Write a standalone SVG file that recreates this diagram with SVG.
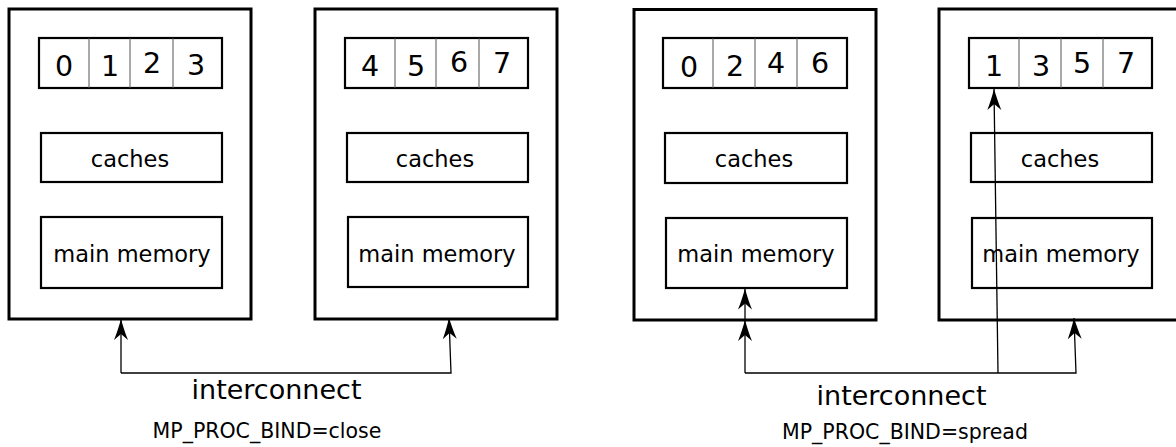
<svg xmlns="http://www.w3.org/2000/svg" width="1176" height="447" viewBox="0 0 1176 447">
<style>
.outer{fill:#fff;stroke:#000;stroke-width:3}
.inner{fill:#fff;stroke:#000;stroke-width:2.2}
.div{stroke:#555;stroke-width:1}
.t{font-family:"DejaVu Sans",sans-serif;fill:#000;text-anchor:middle}
.d{font-size:28.5px}
.l{font-size:22.5px}
.ic{font-size:27px}
.mp{font-size:20.5px}
.c{fill:none;stroke:#000;stroke-width:1.3}
</style>
<defs>
<marker id="ah" markerUnits="userSpaceOnUse" orient="auto" markerWidth="24" markerHeight="16" viewBox="-22 -8 23 16" refX="0" refY="0" overflow="visible">
<path d="M0,0 C-7,2 -15,4.5 -21,7 L-15,0 L-21,-7 C-15,-4.5 -7,-2 0,0 Z" fill="#000"/>
</marker>
</defs>
<rect width="1176" height="447" fill="#fff"/>

<g id="node1">
<rect class="outer" x="9" y="9" width="242" height="310"/>
<rect class="inner" x="39" y="38" width="183" height="50"/>
<line class="div" x1="89" y1="38" x2="89" y2="88"/><line class="div" x1="130" y1="38" x2="130" y2="88"/><line class="div" x1="173" y1="38" x2="173" y2="88"/>
<text class="t d" x="64" y="76">0</text><text class="t d" x="110" y="76">1</text><text class="t d" x="152" y="73">2</text><text class="t d" x="196" y="75">3</text>
<rect class="inner" x="41" y="133" width="181" height="49"/>
<text class="t l" x="130" y="167">caches</text>
<rect class="inner" x="41" y="217" width="181" height="71"/>
<text class="t l" x="132" y="262">main memory</text>
</g>

<g id="node2">
<rect class="outer" x="315" y="9" width="242" height="310"/>
<rect class="inner" x="345" y="38" width="183" height="50"/>
<line class="div" x1="395" y1="38" x2="395" y2="88"/><line class="div" x1="436" y1="38" x2="436" y2="88"/><line class="div" x1="479" y1="38" x2="479" y2="88"/>
<text class="t d" x="370" y="76">4</text><text class="t d" x="416" y="76">5</text><text class="t d" x="459" y="72">6</text><text class="t d" x="502" y="73">7</text>
<rect class="inner" x="347" y="133" width="181" height="49"/>
<text class="t l" x="435" y="167">caches</text>
<rect class="inner" x="348" y="217" width="180" height="70"/>
<text class="t l" x="437" y="262">main memory</text>
</g>

<g id="node3">
<rect class="outer" x="634" y="9.5" width="242" height="310.5"/>
<rect class="inner" x="663" y="38" width="184" height="50"/>
<line class="div" x1="713" y1="38" x2="713" y2="88"/><line class="div" x1="755" y1="38" x2="755" y2="88"/><line class="div" x1="797" y1="38" x2="797" y2="88"/>
<text class="t d" x="689" y="77">0</text><text class="t d" x="735" y="76">2</text><text class="t d" x="776" y="73">4</text><text class="t d" x="820" y="73">6</text>
<rect class="inner" x="665" y="133" width="182" height="50"/>
<text class="t l" x="754" y="167">caches</text>
<rect class="inner" x="666" y="218" width="181" height="70"/>
<text class="t l" x="756" y="262">main memory</text>
</g>

<g id="node4">
<rect class="outer" x="939" y="9" width="242" height="311"/>
<rect class="inner" x="969" y="38" width="183" height="50"/>
<line class="div" x1="1019" y1="38" x2="1019" y2="88"/><line class="div" x1="1061" y1="38" x2="1061" y2="88"/><line class="div" x1="1103" y1="38" x2="1103" y2="88"/>
<text class="t d" x="994" y="76">1</text><text class="t d" x="1041" y="76">3</text><text class="t d" x="1082" y="73">5</text><text class="t d" x="1126" y="73">7</text>
<rect class="inner" x="971" y="133" width="181" height="49"/>
<text class="t l" x="1060" y="167">caches</text>
<rect class="inner" x="972" y="218" width="180" height="70"/>
<text class="t l" x="1061" y="262">main memory</text>
</g>

<g id="connectors">
<polyline class="c" points="121,373 121,319" marker-end="url(#ah)"/>
<polyline class="c" points="121,373 451,373 449,318" marker-end="url(#ah)"/>
<polyline class="c" points="745,373 745,320" marker-end="url(#ah)"/>
<line class="c" x1="745" y1="320" x2="745" y2="288.5" marker-end="url(#ah)"/>
<polyline class="c" points="745,373 998,373 1076,373 1074,318" marker-end="url(#ah)"/>
<line class="c" x1="998" y1="373" x2="994" y2="89" marker-end="url(#ah)"/>
</g>

<g id="labels">
<text class="t ic" x="276.5" y="399">interconnect</text>
<text class="t mp" x="267" y="438">MP_PROC_BIND=close</text>
<text class="t ic" x="901.5" y="405">interconnect</text>
<text class="t mp" x="905" y="439">MP_PROC_BIND=spread</text>
</g>
</svg>
